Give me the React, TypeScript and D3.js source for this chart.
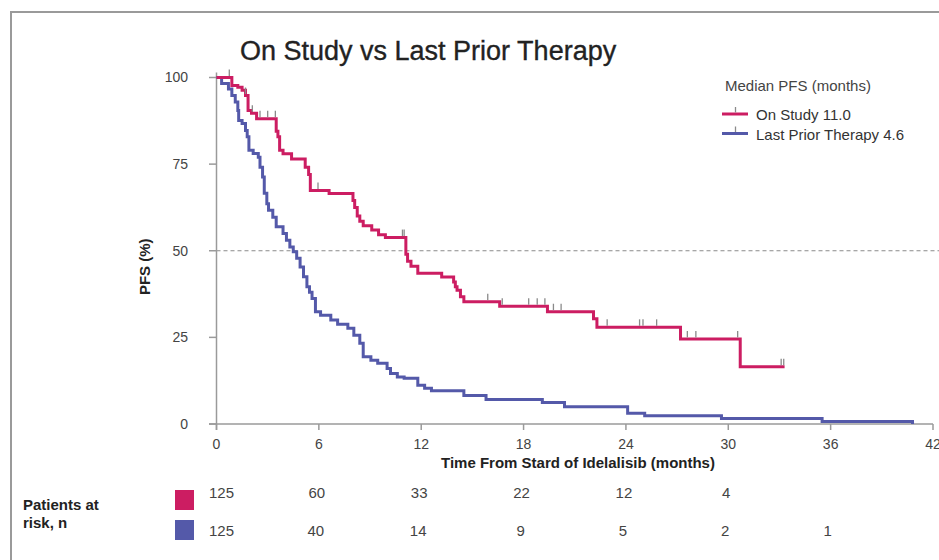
import React from "react";
import * as d3 from "d3";

// ---- Data ----
const onStudyTimes = [0, 0.9, 1.25, 1.5, 1.7, 1.85, 2.05, 2.35, 3.5, 3.6, 3.7, 3.9, 4.4, 5.2, 5.4, 5.5, 6.6, 8.0, 8.1, 8.25, 8.4, 8.6, 9.1, 9.5, 9.9, 11.1, 11.2, 11.4, 11.8, 13.2, 13.9, 14.0, 14.1, 14.3, 14.5, 16.6, 19.4, 22.1, 22.3, 27.2, 30.7, 33.3];
const onStudySurv = [100, 97.7, 97.2, 96.3, 94.8, 90.5, 89.7, 88.1, 84.5, 82.9, 79, 78, 76.5, 74.1, 72, 67.4, 66.5, 64.5, 62.5, 60, 58.5, 57.2, 56, 54.6, 53.8, 49, 47, 45.5, 43.5, 42.4, 41, 39.6, 38.6, 36.7, 35.3, 34, 32.4, 30.4, 27.9, 24.5, 16.5, 16.5];
const onStudyCensor = [0.75, 1.7, 2.1, 2.55, 3.0, 3.45, 5.95, 10.9, 11.0, 15.9, 16.75, 18.3, 18.8, 19.25, 19.75, 20.2, 22.9, 24.8, 25.0, 25.8, 27.6, 28.1, 30.55, 33.1, 33.25];

const priorTimes = [0, 0.3, 0.7, 0.9, 1.1, 1.25, 1.3, 1.5, 1.7, 1.8, 1.9, 2.15, 2.45, 2.55, 2.7, 2.8, 2.95, 3.05, 3.3, 3.5, 3.9, 4.1, 4.3, 4.5, 4.7, 4.9, 5.1, 5.3, 5.45, 5.6, 5.8, 6.1, 6.7, 7.1, 7.7, 8.05, 8.4, 8.6, 9.05, 9.45, 10.0, 10.2, 10.6, 11.0, 11.8, 12.2, 12.6, 14.5, 15.8, 19.1, 20.4, 24.1, 25.1, 29.6, 35.5, 40.8];
const priorSurv = [100, 98.3, 96.7, 94.8, 92.9, 90.5, 87.6, 86.7, 84.7, 82.9, 79, 78.1, 77, 74.1, 71.3, 66.6, 63.6, 61.7, 59.7, 56.9, 55, 53, 51.1, 49.7, 47.8, 45.3, 42.5, 39.6, 38, 36.2, 32.4, 31.4, 30, 28.8, 27.6, 25.6, 23.3, 19.4, 18.4, 17.5, 16, 14.6, 13.6, 13.2, 11.2, 10.3, 9.6, 8.2, 7.1, 6.2, 5.0, 3.1, 2.4, 1.6, 0.75, 0];

const xTicks = [0, 6, 12, 18, 24, 30, 36, 42];
const yTicks = [0, 25, 50, 75, 100];
const riskTimes = [0, 6, 12, 18, 24, 30, 36];
const riskOnStudy = ["125", "60", "33", "22", "12", "4", ""];
const riskPrior = ["125", "40", "14", "9", "5", "2", "1"];
const legendLabels = ["On Study 11.0", "Last Prior Therapy 4.6"];

const PINK = "#CC1D62";
const BLUE = "#5459A9";
const FONT = "'Liberation Sans', Arial, Helvetica, sans-serif";

export default function App() {
  const x = d3.scaleLinear().domain([0, 42]).range([216.5, 933]);
  const y = d3.scaleLinear().domain([0, 100]).range([424, 77.5]);

  const line = d3
    .line<[number, number]>()
    .x((d) => x(d[0]))
    .y((d) => y(d[1]))
    .curve(d3.curveStepAfter);

  const onPts: [number, number][] = onStudyTimes.map((t, i) => [t, onStudySurv[i]]);
  const prPts: [number, number][] = priorTimes.map((t, i) => [t, priorSurv[i]]);

  const survAt = (t: number) => {
    let s = 100;
    for (let i = 0; i < onStudyTimes.length; i++) {
      if (onStudyTimes[i] <= t) s = onStudySurv[i];
    }
    return s;
  };

  return (
    <svg
      width={939}
      height={560}
      viewBox="0 0 939 560"
      style={{ position: "absolute", left: 0, top: 0, background: "#fff" }}
      fontFamily={FONT}
    >
      <rect x={0} y={0} width={939} height={560} fill="#fff" />
      {/* frame */}
      <rect x={11} y={12} width={960} height={600} fill="none" stroke="#9a9a9a" strokeWidth={2} />

      {/* title */}
      <text x={240} y={60} fontSize={27} fill="#222" stroke="#222" strokeWidth={0.35}>On Study vs Last Prior Therapy</text>

      {/* dashed median line */}
      <line x1={x(0)} x2={939} y1={y(50)} y2={y(50)} stroke="#8a8a8a" strokeWidth={1.2} strokeDasharray="4,3" />

      {/* axes */}
      <line x1={209} x2={x(42)} y1={y(0)} y2={y(0)} stroke="#9a9a9a" strokeWidth={1.5} />
      <line x1={x(0)} x2={x(0)} y1={y(100) - 5} y2={y(0) + 6} stroke="#9a9a9a" strokeWidth={1.5} />
      {yTicks.map((t) => (
        <g key={"y" + t}>
          <line x1={209} x2={x(0)} y1={y(t)} y2={y(t)} stroke="#9a9a9a" strokeWidth={1.5} />
          <text x={188} y={y(t)} dy="0.35em" textAnchor="end" fontSize={14} fill="#444">{t}</text>
        </g>
      ))}
      {xTicks.map((t) => (
        <g key={"x" + t}>
          <line x1={x(t)} x2={x(t)} y1={y(0)} y2={y(0) + 6} stroke="#9a9a9a" strokeWidth={1.5} />
          <text x={x(t)} y={449} textAnchor="middle" fontSize={14} fill="#444">{t}</text>
        </g>
      ))}
      <text x={578} y={468} textAnchor="middle" fontSize={15} fontWeight="bold" fill="#222">
        Time From Stard of Idelalisib (months)
      </text>
      <text
        transform={`translate(150,${y(50) + 16}) rotate(-90)`}
        textAnchor="middle"
        fontSize={15}
        fontWeight="bold"
        fill="#222"
      >
        PFS (%)
      </text>

      {/* curves */}
      <path d={line(prPts) ?? ""} fill="none" stroke={BLUE} strokeWidth={3} />
      <path d={line(onPts) ?? ""} fill="none" stroke={PINK} strokeWidth={3} />
      {onStudyCensor.map((t, i) => (
        <line
          key={"c" + i}
          x1={x(t)}
          x2={x(t)}
          y1={y(survAt(t)) - 1.5}
          y2={y(survAt(t)) - 8}
          stroke="#8a8a8a"
          strokeWidth={1.3}
        />
      ))}

      {/* legend */}
      <text x={725} y={91} fontSize={15} fill="#444">Median PFS (months)</text>
      {legendLabels.map((lab, i) => {
        const ly = 114 + i * 19.5;
        return (
          <g key={lab}>
            <line x1={722} x2={748} y1={ly} y2={ly} stroke={i === 0 ? PINK : BLUE} strokeWidth={3} />
            <line x1={735.5} x2={735.5} y1={ly - 1.5} y2={ly - 7} stroke="#8a8a8a" strokeWidth={1.3} />
            <text x={756} y={ly + 6} fontSize={15} fill="#333">{lab}</text>
          </g>
        );
      })}

      {/* risk table */}
      <text x={23} y={510} fontSize={15} fontWeight="bold" fill="#222">Patients at</text>
      <text x={23} y={528} fontSize={15} fontWeight="bold" fill="#222">risk, n</text>
      <rect x={175} y={490} width={19} height={20} fill={PINK} />
      <rect x={175} y={520} width={19} height={20} fill={BLUE} />
      {riskTimes.map((t, i) => (
        <g key={"r" + t}>
          <text x={x(t) + (i === 0 ? 5 : -2)} y={498} textAnchor="middle" fontSize={15} fill="#444">{riskOnStudy[i]}</text>
          <text x={x(t) + (i === 0 ? 5 : -3)} y={536} textAnchor="middle" fontSize={15} fill="#444">{riskPrior[i]}</text>
        </g>
      ))}
    </svg>
  );
}
